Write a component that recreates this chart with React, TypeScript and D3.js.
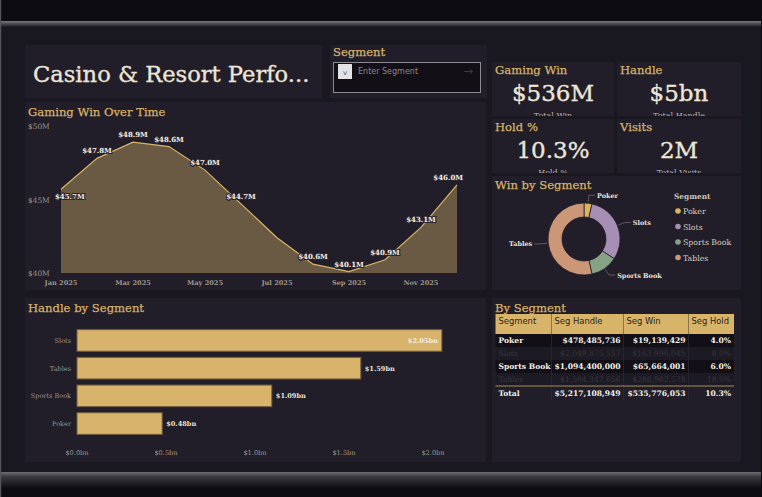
import React, { useEffect, useRef } from 'react';
import * as d3 from 'd3';

const months = ['Jan 2025', 'Feb 2025', 'Mar 2025', 'Apr 2025', 'May 2025', 'Jun 2025',
  'Jul 2025', 'Aug 2025', 'Sep 2025', 'Oct 2025', 'Nov 2025', 'Dec 2025'];
const gamingWinM = [45.7, 47.8, 48.9, 48.6, 47.0, 44.7, 42.4, 40.6, 40.1, 40.9, 43.1, 46.0];
const winTicks = [40, 45, 50];

const segments = ['Poker', 'Slots', 'Sports Book', 'Tables'];
const segHandle = [478485736, 2049875557, 1094400000, 1594347656];
const segWin = [19139429, 163990045, 65664001, 286982578];
const segColors = ['#dbb25e', '#a78eb5', '#87a185', '#cb9776'];
const barOrder = ['Slots', 'Tables', 'Sports Book', 'Poker'];
const handleTicks = [0, 0.5e9, 1e9, 1.5e9, 2e9];
const totalVisits = 2e6;

const SERIF = '"DejaVu Serif", "Liberation Serif", serif';
const SANS = '"DejaVu Sans", "Noto Sans", sans-serif';
const GOLD = '#d8b36a';
const PANEL = '#211e29';
const LIGHT = '#ece5d8';
const MUTED = '#9d978c';

function Dashboard() {
  const svgRef = useRef(null);

  useEffect(() => {
    if (!svgRef.current) return;
    const svg = d3.select(svgRef.current);
    svg.selectAll('*').remove();

    const defs = svg.append('defs');
    const topBar = defs.append('linearGradient').attr('id', 'topBar').attr('x1', 0).attr('x2', 0).attr('y1', 0).attr('y2', 1);
    topBar.append('stop').attr('offset', 0).attr('stop-color', '#7a7a7e');
    topBar.append('stop').attr('offset', 1).attr('stop-color', '#19171f');
    const botBar = defs.append('linearGradient').attr('id', 'botBar').attr('x1', 0).attr('x2', 0).attr('y1', 0).attr('y2', 1);
    botBar.append('stop').attr('offset', 0).attr('stop-color', '#6e6e72');
    botBar.append('stop').attr('offset', 0.3).attr('stop-color', '#3a393e');
    botBar.append('stop').attr('offset', 1).attr('stop-color', '#0d0c11');

    // frame
    svg.append('rect').attr('width', 762).attr('height', 497).attr('fill', '#0d0c11');
    svg.append('rect').attr('x', 1).attr('y', 26).attr('width', 760).attr('height', 446).attr('fill', '#19171f');
    svg.append('rect').attr('x', 1).attr('y', 21).attr('width', 760).attr('height', 6).attr('fill', 'url(#topBar)');
    svg.append('rect').attr('x', 1).attr('y', 472).attr('width', 760).attr('height', 16).attr('fill', 'url(#botBar)');
    svg.append('rect').attr('x', 0).attr('y', 0).attr('width', 1.2).attr('height', 497).attr('fill', '#55545a');

    const panel = (x, y, w, h) => svg.append('rect')
      .attr('x', x).attr('y', y).attr('width', w).attr('height', h).attr('fill', PANEL);
    const heading = (x, y, t, size = 11.6) => svg.append('text')
      .attr('x', x).attr('y', y).attr('fill', GOLD).attr('stroke', GOLD).attr('stroke-width', 0.25)
      .attr('font-family', SERIF).attr('font-size', size).text(t);

    // title + segment filter
    panel(25, 45, 297, 53);
    svg.append('text').attr('x', 33).attr('y', 82).attr('fill', LIGHT).attr('stroke', LIGHT).attr('stroke-width', 0.35)
      .attr('font-family', SERIF).attr('font-size', 22.6).text('Casino & Resort Perfo...');
    panel(330, 45, 157, 53);
    heading(333, 56, 'Segment');
    svg.append('rect').attr('x', 333.5).attr('y', 62.5).attr('width', 147).attr('height', 30)
      .attr('fill', '#121016').attr('stroke', '#8d8b92');
    svg.append('rect').attr('x', 338).attr('y', 64).attr('width', 14).attr('height', 15).attr('fill', '#e4e2e6');
    svg.append('text').attr('x', 345).attr('y', 75).attr('text-anchor', 'middle').attr('fill', '#555')
      .attr('font-family', SANS).attr('font-size', 7).text('v');
    svg.append('text').attr('x', 358).attr('y', 74).attr('fill', '#8a8690')
      .attr('font-family', SANS).attr('font-size', 8).text('Enter Segment');
    svg.append('text').attr('x', 468).attr('y', 75).attr('text-anchor', 'middle').attr('fill', '#3e3b44')
      .attr('font-family', SANS).attr('font-size', 12).text('→');

    // KPI cards
    const totalWin = d3.sum(segWin);
    const totalHandle = d3.sum(segHandle);
    const hold = totalWin / totalHandle;
    const kpis = [
      { title: 'Gaming Win', value: `$${Math.round(totalWin / 1e6)}M`, sub: 'Total Win', x: 492, y: 62 },
      { title: 'Handle', value: `$${Math.round(totalHandle / 1e9)}bn`, sub: 'Total Handle', x: 617, y: 62 },
      { title: 'Hold %', value: `${(hold * 100).toFixed(1)}%`, sub: 'Hold %', x: 492, y: 119 },
      { title: 'Visits', value: `${Math.round(totalVisits / 1e6)}M`, sub: 'Total Visits', x: 617, y: 119 },
    ];
    kpis.forEach((k, i) => {
      const w = i % 2 === 0 ? 122 : 124;
      const clip = defs.append('clipPath').attr('id', `kpi${i}`);
      clip.append('rect').attr('x', k.x).attr('y', k.y).attr('width', w).attr('height', 54);
      panel(k.x, k.y, w, 54);
      heading(k.x + 3, k.y + 12, k.title);
      const g = svg.append('g').attr('clip-path', `url(#kpi${i})`);
      g.append('text').attr('x', k.x + w / 2).attr('y', k.y + 39).attr('text-anchor', 'middle')
        .attr('fill', LIGHT).attr('stroke', LIGHT).attr('stroke-width', 0.35)
        .attr('font-family', SERIF).attr('font-size', 23).text(k.value);
      g.append('text').attr('x', k.x + w / 2).attr('y', k.y + 56).attr('text-anchor', 'middle')
        .attr('fill', '#b8b2a8').attr('font-family', SERIF).attr('font-size', 8).text(k.sub);
    });

    // Gaming Win Over Time
    panel(25, 102, 461, 188);
    heading(28, 116, 'Gaming Win Over Time');
    const x = d3.scalePoint().domain(months).range([61, 457]);
    const y = d3.scaleLinear().domain([40, 50]).range([273, 126]);
    const area = d3.area()
      .x((d, i) => x(months[i]))
      .y0(y(40))
      .y1(d => y(d));
    const line = d3.line()
      .x((d, i) => x(months[i]))
      .y(d => y(d));
    svg.append('path').datum(gamingWinM).attr('d', area).attr('fill', '#6a5a44');
    svg.append('path').datum(gamingWinM).attr('d', line).attr('fill', 'none')
      .attr('stroke', '#d9b469').attr('stroke-width', 1.2);
    winTicks.forEach(t => {
      svg.append('text').attr('x', 28).attr('y', y(t) + 3).attr('fill', MUTED)
        .attr('font-family', SERIF).attr('font-size', 7.4).text(`$${t}M`);
    });
    months.forEach((m, i) => {
      if (i % 2) return;
      svg.append('text').attr('x', x(m)).attr('y', 284.5).attr('text-anchor', 'middle').attr('fill', MUTED)
        .attr('font-family', SERIF).attr('font-weight', 'bold').attr('font-size', 6.6).text(m);
    });
    gamingWinM.forEach((v, i) => {
      if (i === 6) return; // Jul label collides with the line, left off
      let lx = x(months[i]);
      let ly = y(v) - 5;
      let anchor = 'middle';
      if (i === 0) { lx -= 6; ly = y(v) + 10; anchor = 'start'; }
      if (i === gamingWinM.length - 1) { lx += 6; anchor = 'end'; }
      svg.append('text').attr('x', lx).attr('y', ly).attr('text-anchor', anchor)
        .attr('fill', '#f2eee6').attr('stroke', '#2a2530').attr('stroke-width', 2)
        .attr('paint-order', 'stroke').attr('font-family', SERIF).attr('font-weight', 'bold')
        .attr('font-size', 7).text(`$${v.toFixed(1)}M`);
    });

    // Handle by Segment
    panel(25, 298, 461, 164);
    heading(28, 312, 'Handle by Segment');
    const hx = d3.scaleLinear().domain([0, 2e9]).range([77, 433]);
    const hy = d3.scaleBand().domain(barOrder).range([328, 436]).paddingInner(0.22).paddingOuter(0.06);
    barOrder.forEach(s => {
      const v = segHandle[segments.indexOf(s)];
      const w = hx(v) - hx(0);
      svg.append('rect').attr('x', hx(0)).attr('y', hy(s)).attr('width', w).attr('height', hy.bandwidth())
        .attr('fill', '#d8b36b').attr('stroke', '#6f5d3e').attr('stroke-width', 1);
      svg.append('text').attr('x', 71).attr('y', hy(s) + hy.bandwidth() / 2 + 2.5).attr('text-anchor', 'end')
        .attr('fill', MUTED).attr('font-family', SERIF).attr('font-size', 6.5).text(s);
      const label = `$${(v / 1e9).toFixed(2)}bn`;
      const inside = v > 1.8e9;
      svg.append('text').attr('x', inside ? hx(v) - 4 : hx(v) + 4).attr('y', hy(s) + hy.bandwidth() / 2 + 2.5)
        .attr('text-anchor', inside ? 'end' : 'start').attr('fill', inside ? '#f4efe4' : '#e6e0d6')
        .attr('font-family', SERIF).attr('font-weight', 'bold').attr('font-size', 6.6).text(label);
    });
    handleTicks.forEach(t => {
      svg.append('text').attr('x', hx(t)).attr('y', 454.5).attr('text-anchor', 'middle').attr('fill', MUTED)
        .attr('font-family', SERIF).attr('font-size', 6.6).text(`$${(t / 1e9).toFixed(1)}bn`);
    });

    // Win by Segment donut
    panel(492, 176, 249, 114);
    heading(495, 189, 'Win by Segment');
    const cx = 584, cy = 239;
    const pie = d3.pie().sort(null).value(d => d);
    const arcs = pie(segWin);
    const arc = d3.arc().innerRadius(22).outerRadius(36);
    const dg = svg.append('g').attr('transform', `translate(${cx},${cy})`);
    dg.selectAll('path').data(arcs).join('path')
      .attr('d', arc).attr('fill', (d, i) => segColors[i]).attr('stroke', '#211e29').attr('stroke-width', 0.8);
    arcs.forEach((a, i) => {
      const mid = (a.startAngle + a.endAngle) / 2;
      const sx = Math.sin(mid), sy = -Math.cos(mid);
      const r1 = 37, r2 = 44;
      const right = sx >= 0;
      const ex = sx * r2 + (right ? 6 : -6);
      dg.append('polyline')
        .attr('points', `${sx * r1},${sy * r1} ${sx * r2},${sy * r2} ${ex},${sy * r2}`)
        .attr('fill', 'none').attr('stroke', '#6d6872').attr('stroke-width', 0.8);
      dg.append('text').attr('x', ex + (right ? 2 : -2)).attr('y', sy * r2 + 2.5)
        .attr('text-anchor', right ? 'start' : 'end').attr('fill', '#e8e2d8')
        .attr('font-family', SERIF).attr('font-weight', 'bold').attr('font-size', 6.5).text(segments[i]);
    });
    svg.append('text').attr('x', 674).attr('y', 199).attr('fill', '#cfc7b8')
      .attr('font-family', SERIF).attr('font-weight', 'bold').attr('font-size', 7.4).text('Segment');
    segments.forEach((s, i) => {
      const ly = 211 + i * 15.5;
      svg.append('circle').attr('cx', 678).attr('cy', ly).attr('r', 2.8).attr('fill', segColors[i]);
      svg.append('text').attr('x', 683).attr('y', ly + 3).attr('fill', '#d6cfc3')
        .attr('font-family', SERIF).attr('font-size', 7.8).text(s);
    });

    // By Segment table
    panel(492, 298, 249, 164);
    heading(495, 312, 'By Segment');
    const cols = [495.5, 551.5, 623.5, 688.5, 734];
    svg.append('rect').attr('x', cols[0]).attr('y', 314).attr('width', cols[4] - cols[0]).attr('height', 20)
      .attr('fill', GOLD);
    ['Segment', 'Seg Handle', 'Seg Win', 'Seg Hold'].forEach((h, i) => {
      svg.append('text').attr('x', cols[i] + 3).attr('y', 323.5).attr('fill', '#2a2420')
        .attr('font-family', SANS).attr('font-size', 8.4).text(h);
    });
    const money = d3.format('$,.0f');
    const rowTop = 334, rowH = 13;
    segments.forEach((s, i) => {
      const ry = rowTop + i * rowH;
      const faded = i % 2 === 1;
      svg.append('rect').attr('x', cols[0]).attr('y', ry).attr('width', cols[4] - cols[0]).attr('height', rowH)
        .attr('fill', faded ? '#1c1a22' : '#121016');
      const cells = [s, money(segHandle[i]), money(segWin[i]), `${(segWin[i] / segHandle[i] * 100).toFixed(1)}%`];
      cells.forEach((c, j) => {
        svg.append('text').attr('x', j === 0 ? cols[0] + 3 : cols[j + 1] - 3).attr('y', ry + 9.2)
          .attr('text-anchor', j === 0 ? 'start' : 'end')
          .attr('fill', faded ? '#3a3642' : '#f2eee6')
          .attr('font-family', SERIF).attr('font-weight', faded ? 'normal' : 'bold')
          .attr('font-size', 7.6).text(c);
      });
    });
    const totY = rowTop + 4 * rowH;
    [1, 2, 3].forEach(j => {
      svg.append('line').attr('x1', cols[j]).attr('x2', cols[j]).attr('y1', 334).attr('y2', totY + 14)
        .attr('stroke', '#2b2833').attr('stroke-width', 0.8);
      svg.append('line').attr('x1', cols[j]).attr('x2', cols[j]).attr('y1', 314).attr('y2', 334)
        .attr('stroke', '#8c7548').attr('stroke-width', 1);
    });
    svg.append('line').attr('x1', cols[0]).attr('x2', cols[4]).attr('y1', totY).attr('y2', totY)
      .attr('stroke', '#a88c58').attr('stroke-width', 1.2);
    const totals = ['Total', money(totalHandle), money(totalWin), `${(hold * 100).toFixed(1)}%`];
    totals.forEach((c, j) => {
      svg.append('text').attr('x', j === 0 ? cols[0] + 3 : cols[j + 1] - 3).attr('y', totY + 9.8)
        .attr('text-anchor', j === 0 ? 'start' : 'end').attr('fill', '#f2eee6')
        .attr('font-family', SERIF).attr('font-weight', 'bold').attr('font-size', 7.6).text(c);
    });
  }, []);

  return <svg ref={svgRef} width={762} height={497} style={{ position: 'absolute', left: 0, top: 0 }} />;
}

export default function App() {
  return <Dashboard />;
}
